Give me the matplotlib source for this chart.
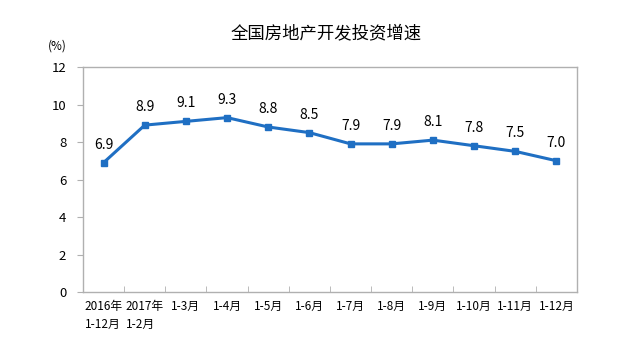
import matplotlib
matplotlib.use("Agg")
import matplotlib.pyplot as plt
from matplotlib.ticker import FixedLocator, NullFormatter

plt.rcParams['font.family'] = ['Noto Sans CJK SC', 'DejaVu Sans']

categories = ["2016年\n1-12月", "2017年\n1-2月", "1-3月", "1-4月", "1-5月", "1-6月",
              "1-7月", "1-8月", "1-9月", "1-10月", "1-11月", "1-12月"]
growth = [6.9, 8.9, 9.1, 9.3, 8.8, 8.5, 7.9, 7.9, 8.1, 7.8, 7.5, 7.0]
yticks = [0, 2, 4, 6, 8, 10, 12]

line_color = "#1f6fc3"
frame_color = "#b0b0b0"

fig = plt.figure(figsize=(6.18, 3.37), dpi=100)
ax = fig.add_axes([83 / 618, 1 - 292 / 337, (577 - 83) / 618, (292 - 67) / 337])

x = list(range(len(categories)))
ax.plot(x, growth, color=line_color, lw=2.2, marker='s', ms=5,
        markerfacecolor=line_color, markeredgecolor=line_color)
for xi, v in zip(x, growth):
    ax.annotate(f"{v:.1f}", (xi, v), xytext=(0, 8), textcoords='offset points',
                ha='center', va='bottom', fontsize=10, color='black')

ax.set_xlim(-0.5, len(categories) - 0.5)
ax.set_ylim(0, 12)
ax.set_yticks(yticks)
ax.set_yticklabels([str(t) for t in yticks], fontsize=9.5)

ax.set_xticks(x)
ax.set_xticklabels(categories, fontsize=8.5, linespacing=1.5, multialignment='left')
ax.tick_params(axis='x', length=0, pad=6)
ax.xaxis.set_minor_locator(FixedLocator([i + 0.5 for i in range(len(categories) - 1)]))
ax.xaxis.set_minor_formatter(NullFormatter())
ax.tick_params(axis='x', which='minor', length=4, direction='in', color=frame_color)
ax.tick_params(axis='y', length=4, direction='out', color=frame_color, pad=8)

for s in ax.spines.values():
    s.set_color(frame_color)
    s.set_linewidth(1)

fig.text(326 / 618, 1 - 33 / 337, "全国房地产开发投资增速",
         ha='center', va='center', fontsize=12.5)
fig.text(57 / 618, 1 - 46 / 337, "(%)", ha='center', va='center', fontsize=8.5)

fig.savefig("out.png", dpi=100)
